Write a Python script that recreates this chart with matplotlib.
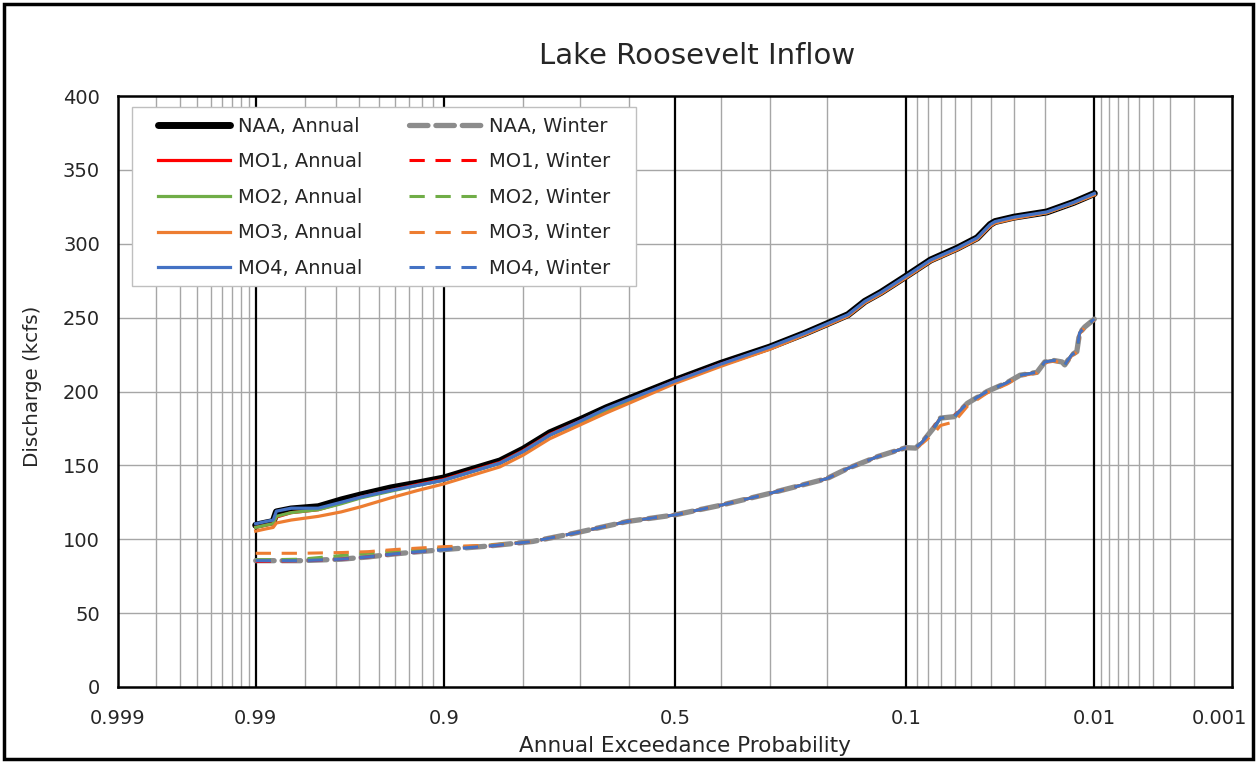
import numpy as np
import matplotlib
matplotlib.use("Agg")
import matplotlib.pyplot as plt
from matplotlib.patches import Rectangle
from statistics import NormalDist

plt.rcParams['font.family'] = ['DejaVu Sans']

# ---------------- data ----------------
title = "Lake Roosevelt Inflow"
xlabel = "Annual Exceedance Probability"
ylabel = "Discharge (kcfs)"

x_ticks = [0.999, 0.99, 0.9, 0.5, 0.1, 0.01, 0.001]
x_ticklabels = ["0.999", "0.99", "0.9", "0.5", "0.1", "0.01", "0.001"]
x_major_lines = [0.99, 0.9, 0.5, 0.1, 0.01]
x_minor_lines = [0.998, 0.997, 0.996, 0.995, 0.994, 0.993, 0.992, 0.991,
                 0.98, 0.97, 0.96, 0.95, 0.94, 0.93, 0.92, 0.91,
                 0.8, 0.7, 0.6, 0.4, 0.3, 0.2,
                 0.09, 0.08, 0.07, 0.06, 0.05, 0.04, 0.03, 0.02,
                 0.009, 0.008, 0.007, 0.006, 0.005, 0.004, 0.003, 0.002]
y_ticks = [0, 50, 100, 150, 200, 250, 300, 350, 400]

# annual exceedance curves
p_annual = [0.99, 0.9884, 0.9871, 0.9865, 0.9834, 0.9761, 0.968, 0.9593, 0.9427,
            0.9234, 0.90, 0.8686, 0.8342, 0.80, 0.7565, 0.70, 0.6483, 0.5937,
            0.50, 0.40, 0.30, 0.235, 0.1933, 0.1686, 0.1461, 0.1268, 0.10,
            0.0781, 0.0587, 0.0468, 0.0402, 0.0379, 0.0300, 0.0196, 0.0135, 0.01]
naa_annual = [109.5, 111, 112, 118.5, 120.5, 122, 126.6, 130, 134.7,
              138, 141.5, 147.5, 153, 161, 172, 181, 189, 196,
              207.5, 219, 230, 239.5, 247, 252, 261, 267, 278,
              289, 297, 304, 313, 315, 318, 321.5, 328, 334]
mo1_annual = [108, 109.5, 110.5, 115, 118, 120, 124.5, 128.5, 133,
              137, 140.5, 146.5, 152, 160, 171, 180, 188, 195,
              207, 218.5, 229.5, 239, 246.5, 251.5, 260.5, 266.5, 277.5,
              288.5, 296.5, 303.5, 312, 314.5, 317.5, 321, 327.5, 333.5]
mo2_annual = [108, 109.5, 110.5, 115.5, 118, 120, 124, 128, 132.5,
              136.5, 140, 146, 151.5, 159.5, 170.5, 179.5, 187.5, 194.5,
              206.5, 218, 229.5, 239, 246.5, 251.5, 260.5, 266.5, 277.5,
              288.5, 296.5, 303.5, 312.5, 314.5, 317.5, 321, 327.5, 333.5]
mo3_annual = [105.5, 107, 108, 111, 113, 115.5, 118.5, 122, 128,
              133, 137.5, 143.5, 149, 157, 168, 177.5, 185.5, 193,
              205.5, 217, 228.5, 238.5, 246, 251, 260, 266, 277,
              288, 296, 303, 312, 314, 317, 321, 327.5, 333]
mo4_annual = [110.5, 112, 113, 119, 121, 121, 125, 128.5, 133,
              136.5, 140, 146, 151.5, 159.5, 170.5, 180, 188.5, 195.5,
              207, 218.5, 230, 239.5, 247, 252, 261, 267, 278,
              289, 297, 304, 313, 315, 318, 321.5, 328, 334]

# winter exceedance curves
p_winter = [0.99, 0.981, 0.968, 0.9558, 0.9407, 0.9234, 0.90, 0.8475, 0.785,
            0.713, 0.6044, 0.50, 0.40, 0.30, 0.20, 0.1686, 0.1302, 0.10,
            0.0910, 0.0848, 0.0750, 0.0704, 0.0606, 0.0524, 0.0417, 0.0327,
            0.0278, 0.0223, 0.0201, 0.0178, 0.0159, 0.0153, 0.0139, 0.0129,
            0.0124, 0.0115, 0.01]
naa_winter = [85.5, 85.5, 86.5, 88, 90, 91.5, 93, 95.5, 98.5,
              104, 112, 116.5, 123, 131, 141, 148, 156, 162,
              161.7, 166, 176, 182, 183, 192, 200, 206,
              211, 213, 220, 221, 220, 218, 224.7, 227,
              239.6, 243.7, 249]
mo1_winter = [85, 85.5, 86.5, 88, 90, 91.5, 93.5, 95.5, 98.5,
              104, 112, 116.5, 123, 131, 141, 148, 156, 162,
              161.5, 166, 176.5, 182, 183.5, 192, 200, 206,
              211, 213, 220, 221, 220, 218, 224.7, 227,
              239.6, 243.7, 249]
mo2_winter = [86, 86.5, 89, 90.5, 92, 93, 94, 96, 98.5,
              104, 112, 116.5, 123, 131, 141, 148, 156, 162,
              161.5, 166, 176, 182, 183, 192, 200, 206,
              211, 213, 220, 221, 220, 218, 224.7, 227,
              239.6, 243.7, 249]
mo3_winter = [90.5, 90.5, 91, 91.6, 93, 94, 95, 96, 98.5,
              104, 112, 116.5, 123, 131, 141, 148, 156, 162,
              161.5, 165, 172, 177, 179.5, 190, 199, 205,
              210.5, 212.5, 219.5, 220.5, 219.5, 217.5, 224, 226.5,
              239, 243, 248.5]
mo4_winter = [85.5, 85.5, 86.5, 88, 90, 91.5, 93, 95.5, 98.5,
              104, 112, 116.5, 123, 131, 141, 148, 156, 162,
              161.7, 166, 176, 182, 183, 192, 200, 206,
              211, 213, 220, 221, 220, 218, 224.7, 227,
              239.6, 243.7, 249]

# ---------------- probability scale ----------------
_nd = NormalDist()
_ppf = np.vectorize(_nd.inv_cdf, otypes=[float])
_cdf = np.vectorize(_nd.cdf, otypes=[float])


def fwd(p):
    p = np.clip(np.asarray(p, dtype=float), 1e-9, 1 - 1e-9)
    return _ppf(p)


def inv(z):
    return _cdf(np.asarray(z, dtype=float))


# ---------------- figure ----------------
W, H = 1257, 763
fig = plt.figure(figsize=(W / 100, H / 100), dpi=100)
ax = fig.add_axes([118 / W, 1 - 687 / H, (1232 - 118) / W, (687 - 96) / H])
ax.set_xscale('function', functions=(fwd, inv))
ax.set_xlim(0.999, 0.001)
ax.set_ylim(0, 400)

# grid
for p in x_minor_lines:
    ax.axvline(p, color='#a6a6a6', lw=1.0, zorder=0.5)
for yv in y_ticks[1:-1]:
    ax.axhline(yv, color='#a6a6a6', lw=1.0, zorder=0.5)
for p in x_major_lines:
    ax.axvline(p, color='black', lw=1.6, zorder=0.6)

gray = '#8c8c8c'
red = '#ff0000'
green = '#70ad47'
orange = '#ed7d31'
blue = '#4472c4'

ann_lw = 2.3
ax.plot(p_annual, naa_annual, color='black', lw=5.0, solid_capstyle='round',
        label='NAA, Annual', zorder=2)
ax.plot(p_annual, mo1_annual, color=red, lw=ann_lw, label='MO1, Annual', zorder=2.1)
ax.plot(p_annual, mo2_annual, color=green, lw=ann_lw, label='MO2, Annual', zorder=2.2)
ax.plot(p_annual, mo3_annual, color=orange, lw=ann_lw, label='MO3, Annual', zorder=2.3)
ax.plot(p_annual, mo4_annual, color=blue, lw=ann_lw, label='MO4, Annual', zorder=2.4)

win_lw = 2.2
ax.plot(p_winter, naa_winter, color=gray, lw=3.8, dashes=(3.5, 1.5),
        dash_capstyle='round', label='NAA, Winter', zorder=2)
ax.plot(p_winter, mo1_winter, color=red, lw=win_lw, dashes=(5, 3.5),
        label='MO1, Winter', zorder=2.1)
ax.plot(p_winter, mo2_winter, color=green, lw=win_lw, dashes=(5, 3.5),
        label='MO2, Winter', zorder=2.2)
ax.plot(p_winter, mo3_winter, color=orange, lw=win_lw, dashes=(5, 3.5),
        label='MO3, Winter', zorder=2.3)
ax.plot(p_winter, mo4_winter, color=blue, lw=win_lw, dashes=(5, 3.5),
        label='MO4, Winter', zorder=2.4)

# ticks
txt = '#262626'
ax.set_xticks(x_ticks)
ax.set_xticklabels(x_ticklabels[:-1] + [''])
ax.xaxis.set_minor_locator(matplotlib.ticker.NullLocator())
ax.set_yticks(y_ticks)
ax.tick_params(axis='both', length=0, labelsize=14, colors=txt)
ax.tick_params(axis='x', pad=16)
ax.tick_params(axis='y', pad=13)
# last x label is nudged inward so it stays inside the chart border
ax.annotate(x_ticklabels[-1], xy=(1.0, 0.0), xycoords='axes fraction',
            xytext=(11, -16), textcoords='offset points', ha='right', va='top',
            fontsize=14, color=txt)

for s in ax.spines.values():
    s.set_color('black')
    s.set_linewidth(1.8)

ax.set_xlabel(xlabel, fontsize=15.5, color=txt)
ax.xaxis.set_label_coords((685 - 118) / (1232 - 118), (687 - 736) / (687 - 96))
ax.set_ylabel(ylabel, fontsize=14.3, color=txt)
ax.yaxis.set_label_coords((42 - 118) / (1232 - 118), (687 - 386) / (687 - 96))

fig.text(697 / W, 1 - 56 / H, title, fontsize=21, ha='center', va='center',
         color=txt)

# legend frame drawn as its own box, contents placed inside it
ax.add_patch(Rectangle((132 / W, 1 - 286 / H), (636 - 132) / W, (286 - 107) / H,
                       transform=fig.transFigure, facecolor='white',
                       edgecolor='#bfbfbf', lw=1.0, zorder=4.9, clip_on=False))
leg = ax.legend(ncol=2, loc='upper left',
                bbox_to_anchor=(158 / W, 1 - 116.5 / H),
                bbox_transform=fig.transFigure,
                fontsize=14, frameon=False, handlelength=3.7, handletextpad=0.42,
                columnspacing=2.4, labelspacing=0.855, borderpad=0.0,
                borderaxespad=0)
leg.set_zorder(5)
for t in leg.get_texts():
    t.set_color(txt)

# outer border of the figure
fig.patches.append(Rectangle((4 / W, 4 / H), 1 - 8 / W, 1 - 8 / H,
                             transform=fig.transFigure, fill=False,
                             edgecolor='black', lw=2.5))

fig.savefig('out.png', dpi=100)
